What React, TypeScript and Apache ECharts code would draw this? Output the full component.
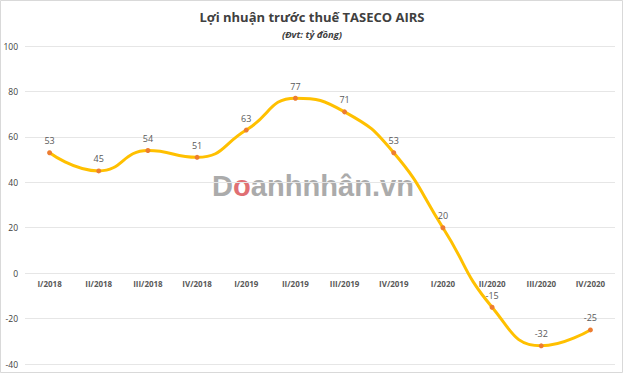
import React, { useEffect, useRef } from "react";
import * as echarts from "echarts";

const categories = ["I/2018", "II/2018", "III/2018", "IV/2018", "I/2019", "II/2019", "III/2019", "IV/2019", "I/2020", "II/2020", "III/2020", "IV/2020"];
const profit = [53, 45, 54, 51, 63, 77, 71, 53, 20, -15, -32, -25];
const yTicks = { min: -40, max: 100, interval: 20 };
const titleText = "Lợi nhuận trước thuế TASECO AIRS";
const subtitleText = "(Đvt: tỷ đồng)";

export default function App() {
  const ref = useRef<HTMLDivElement>(null);
  useEffect(() => {
    if (!ref.current) return;
    const chart = echarts.init(ref.current, null, { renderer: "svg" });
    const font = "Open Sans, Noto Sans, sans-serif";
    chart.setOption({
      animation: false,
      backgroundColor: "#ffffff",
      title: [
        {
          text: titleText,
          left: "center",
          top: 5,
          textStyle: { fontSize: 13, fontWeight: "bold", color: "#404040", fontFamily: font },
        },
        {
          text: subtitleText,
          left: "center",
          top: 24,
          textStyle: { fontSize: 9.5, fontWeight: "bold", fontStyle: "italic", color: "#404040", fontFamily: font },
        },
      ],
      graphic: [
        {
          type: "rect",
          shape: { x: 0.5, y: 0.5, width: 622, height: 372 },
          style: { fill: "none", stroke: "#D9D9D9", lineWidth: 1 },
          z: 100,
        },
        {
          type: "text",
          x: 212,
          y: 170,
          scaleX: 0.97,
          z: -1,
          style: {
            text: "{a|D}{b|o}{a|anhnhân.vn}",
            rich: {
              a: { fontSize: 30, fontWeight: "bold", fill: "#ABABAB", fontFamily: "Liberation Sans, Arial, sans-serif" },
              b: { fontSize: 30, fontWeight: "bold", fill: "#E06F73", fontFamily: "Liberation Sans, Arial, sans-serif" },
            },
          },
        },
      ],
      grid: { left: 25, right: 9, top: 46, bottom: 10, containLabel: false },
      xAxis: {
        type: "category",
        data: categories,
        boundaryGap: true,
        offset: -91,
        axisLine: { show: false },
        axisTick: { show: false },
        axisLabel: { fontSize: 8, fontWeight: "bold", color: "#595959", margin: 6, fontFamily: font },
      },
      yAxis: {
        type: "value",
        min: yTicks.min,
        max: yTicks.max,
        interval: yTicks.interval,
        axisLine: { show: false },
        axisTick: { show: false },
        splitLine: { lineStyle: { color: "#E6E6E6", width: 1 } },
        axisLabel: { fontSize: 8.5, color: "#404040", margin: 7, fontFamily: font },
      },
      series: [
        {
          type: "line",
          data: profit,
          smooth: 0.5,
          z: 5,
          lineStyle: { color: "#FFC000", width: 3 },
          symbol: "circle",
          symbolSize: 5,
          itemStyle: { color: "#ED7D31" },
          label: { show: true, position: "top", distance: 5, fontSize: 9, color: "#595959", fontFamily: font },
        },
      ],
    });
    return () => chart.dispose();
  }, []);
  return <div ref={ref} style={{ position: "fixed", left: 0, top: 0, width: 624, height: 374 }} />;
}
